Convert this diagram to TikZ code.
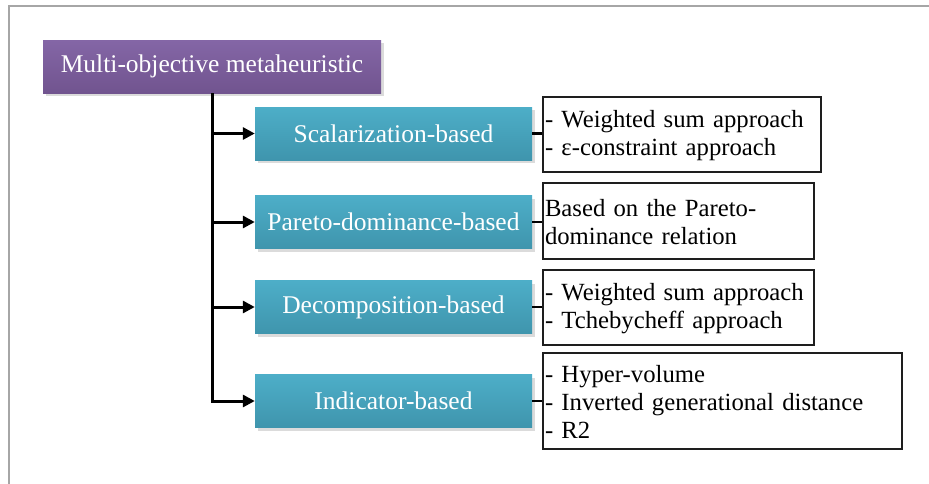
\documentclass[tikz,border=0pt]{standalone}
\usepackage{fontspec}
\setmainfont{Liberation Serif}
\usetikzlibrary{arrows.meta,shadows}

\definecolor{framegray}{HTML}{A6A6A6}
\definecolor{purpletop}{HTML}{8466A6}
\definecolor{purplebot}{HTML}{71548F}
\definecolor{tealtop}{HTML}{4DAEC8}
\definecolor{tealbot}{HTML}{3F95AD}
\definecolor{boxline}{HTML}{1E1E1E}

\tikzset{
  boxshadow/.style={drop shadow={shadow xshift=3pt, shadow yshift=-3pt, fill=black!14, opacity=1}},
  headbox/.style={boxshadow, top color=purpletop, bottom color=purplebot, draw=none,
    text=white, font=\fontsize{25.5}{28}\selectfont, inner sep=0pt},
  catbox/.style={boxshadow, top color=tealtop, bottom color=tealbot, draw=none,
    text=white, font=\fontsize{25.5}{28}\selectfont, inner sep=0pt,
    minimum width=277pt, minimum height=53pt},
  notebox/.style={draw=boxline, line width=1.5pt, fill=white, align=left,
    font=\fontsize{24.7}{28}\selectfont, inner xsep=2pt, inner ysep=0pt},
  arr/.style={line width=3pt, black, -{Triangle[length=12pt,width=12pt]}},
  link/.style={line width=2.5pt, black},
}

\begin{document}
\begin{tikzpicture}[x=1pt,y=-1pt]
\useasboundingbox (0,0) rectangle (929,483);
\fill[white] (0,0) rectangle (929,483);

% outer frame (only top and left edges fall inside the page)
\draw[framegray, line width=2pt] (9,485) -- (9,6) -- (931,6);

% root
\node[headbox, minimum width=338pt, minimum height=53pt] (head) at (212,66.5)
  {Multi-objective metaheuristic};

% categories
\node[catbox] (s1) at (393.5,133.5) {Scalarization-based};
\node[catbox] (s2) at (393.5,222)   {Pareto-dominance-based};
\node[catbox] (s3) at (393.5,307)   {Decomposition-based};
\node[catbox] (s4) at (393.5,401)   {Indicator-based};

% descriptions
\node[notebox, text width=274pt, minimum height=75pt] (r1) at (682,134.5)
  {\strut- Weighted sum approach\\- ε-constraint approach};
\node[notebox, text width=267pt, minimum height=76pt] (r2) at (678.5,221)
  {\strut Based on the Pareto-\\dominance relation};
\node[notebox, text width=267pt, minimum height=75pt] (r3) at (678.5,307.5)
  {\strut- Weighted sum approach\\- Tchebycheff approach};
\node[notebox, text width=355pt, minimum height=96pt] (r4) at (722.5,401)
  {\strut- Hyper-volume\\- Inverted generational distance\\- R2};

% tree connectors
\draw[arr] (head.south) |- (s4.west);
\draw[arr] (head.south |- s1.west) -- (s1.west);
\draw[arr] (head.south |- s2.west) -- (s2.west);
\draw[arr] (head.south |- s3.west) -- (s3.west);

% links to descriptions
\draw[link] (s1.east) -- (s1.east -| r1.west);
\draw[link] (s2.east) -- (s2.east -| r2.west);
\draw[link] (s3.east) -- (s3.east -| r3.west);
\draw[link] (s4.east) -- (s4.east -| r4.west);
\end{tikzpicture}
\end{document}
